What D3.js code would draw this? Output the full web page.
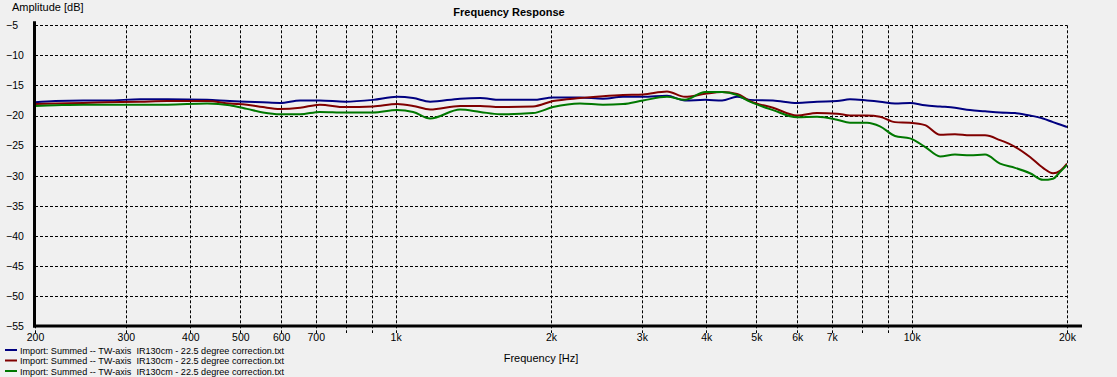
<!DOCTYPE html>
<html>
<head>
<meta charset="utf-8">
<script src="https://cdn.jsdelivr.net/npm/d3@7"></script>
<style>
  html, body { margin: 0; padding: 0; background: #f0f0f0; }
  svg { display: block; font-family: "Liberation Sans", Arial, sans-serif; }
</style>
</head>
<body>
<svg id="chart" width="1117" height="377"></svg>
<script>
// ---- Data ----
const freqs = [200, 219, 248, 276, 320, 361, 431, 477, 515, 553, 597, 653, 713, 798, 904, 1006, 1081, 1166,
  1333, 1458, 1593, 1846, 2018, 2276, 2522, 2758, 3016, 3356, 3636, 3978, 4290, 4588, 4860, 5386, 5996,
  6556, 7168, 7594, 8196, 8682, 9283, 9926, 10612, 11350, 12132, 12972, 13872, 14836, 15860, 16958,
  17968, 18792, 19384, 20000];

const blueDb = [-17.8, -17.6, -17.5, -17.5, -17.3, -17.3, -17.4, -17.6, -17.7, -17.8, -17.9, -17.5, -17.5,
  -17.7, -17.4, -16.9, -17.1, -17.7, -17.2, -17.1, -17.4, -17.4, -17.0, -17.0, -17.2, -16.9, -16.9, -16.7,
  -17.5, -17.4, -17.5, -16.9, -17.4, -17.5, -17.9, -17.7, -17.6, -17.3, -17.5, -17.7, -18.0, -17.9, -18.3,
  -18.5, -18.7, -19.1, -19.3, -19.5, -19.6, -20.0, -20.5, -21.1, -21.5, -21.9];

const redDb = [-18.1, -18.0, -17.9, -17.8, -17.7, -17.6, -17.6, -18.0, -18.2, -18.6, -18.9, -18.7, -18.2,
  -18.6, -18.5, -18.1, -18.4, -19.0, -18.4, -18.4, -18.6, -18.5, -17.6, -17.1, -16.8, -16.6, -16.5, -16.0,
  -16.9, -16.4, -16.1, -16.4, -17.6, -18.7, -20.0, -19.6, -19.7, -20.0, -20.0, -20.2, -21.1, -21.2, -21.6,
  -23.2, -23.1, -23.3, -23.3, -24.1, -25.2, -26.9, -28.7, -29.6, -29.2, -28.0];

const greenDb = [-18.4, -18.3, -18.2, -18.2, -18.2, -18.2, -18.0, -18.3, -18.9, -19.5, -19.8, -19.8, -19.4,
  -19.5, -19.5, -19.1, -19.4, -20.5, -19.0, -19.4, -19.8, -19.6, -18.6, -18.0, -18.2, -18.1, -17.5, -16.9,
  -17.4, -16.1, -16.1, -16.6, -17.7, -19.1, -20.3, -20.2, -20.7, -21.2, -21.2, -21.8, -23.4, -23.8, -25.2,
  -26.8, -26.5, -26.6, -26.5, -28.0, -28.7, -29.6, -30.7, -30.5, -29.4, -28.2];

const seriesNames = [
  "Import: Summed -- TW-axis  IR130cm - 22.5 degree correction.txt",
  "Import: Summed -- TW-axis  IR130cm - 22.5 degree correction.txt",
  "Import: Summed -- TW-axis  IR130cm - 22.5 degree correction.txt"
];
const seriesColors = ["#000080", "#800000", "#007800"];

const xTicks = [200, 300, 400, 500, 600, 700, 800, 900, 1000, 2000, 3000, 4000, 5000, 6000, 7000, 8000, 9000, 10000, 20000];
const xTickLabels = ["200", "300", "400", "500", "600", "700", "", "", "1k", "2k", "3k", "4k", "5k", "6k", "7k", "", "", "10k", "20k"];
const yTicks = [-5, -10, -15, -20, -25, -30, -35, -40, -45, -50, -55];

const titleText = "Frequency Response";
const xTitle = "Frequency [Hz]";
const yTitle = "Amplitude [dB]";

// ---- Layout ----
const svg = d3.select("#chart");
const L = 35, R = 1067, T = 25.3, B = 326;
const x = d3.scaleLog().domain([200, 20000]).range([L, R]);
const y = d3.scaleLinear().domain([-55, -5]).range([B, T]);

// grid: horizontal
svg.append("g").selectAll("line").data(yTicks.filter(v => v > -55)).join("line")
  .attr("x1", L).attr("x2", R)
  .attr("y1", d => Math.round(y(d)) + 0.5).attr("y2", d => Math.round(y(d)) + 0.5)
  .attr("stroke", "#000").attr("stroke-width", 1).attr("stroke-dasharray", "3,2");

// grid: vertical (extend below the axis as ticks)
svg.append("g").selectAll("line").data(xTicks).join("line")
  .attr("x1", d => Math.round(x(d)) + 0.5).attr("x2", d => Math.round(x(d)) + 0.5)
  .attr("y1", T).attr("y2", B + 7)
  .attr("stroke", "#000").attr("stroke-width", 1).attr("stroke-dasharray", "3,2");

// x axis labels via d3 axis
const xAxis = d3.axisBottom(x).tickValues(xTicks).tickSize(0).tickPadding(0)
  .tickFormat((d, i) => xTickLabels[i]);
const gx = svg.append("g").attr("transform", `translate(0,${B + 8})`).call(xAxis);
gx.select(".domain").remove();
gx.selectAll("text").attr("font-size", "10.5px").attr("fill", "#000")
  .attr("font-family", "'Liberation Sans', Arial, sans-serif").attr("dy", "0.71em");

// y axis labels via d3 axis
const yAxis = d3.axisLeft(y).tickValues(yTicks).tickSize(0).tickPadding(0).tickFormat(d3.format("d"));
const gy = svg.append("g").attr("transform", `translate(6,0)`).call(yAxis);
gy.select(".domain").remove();
gy.selectAll("text").attr("text-anchor", "start").attr("font-size", "10.5px").attr("fill", "#000")
  .attr("font-family", "'Liberation Sans', Arial, sans-serif");

// clip
svg.append("defs").append("clipPath").attr("id", "clip")
  .append("rect").attr("x", L).attr("y", T - 2).attr("width", R - L).attr("height", B - T);

// lines
const allSeries = [blueDb, redDb, greenDb];
const line = d3.line().x((d, i) => x(freqs[i])).y(d => y(d)).curve(d3.curveMonotoneX);
svg.append("g").attr("clip-path", "url(#clip)").selectAll("path").data(allSeries).join("path")
  .attr("d", d => line(d)).attr("fill", "none")
  .attr("stroke", (d, i) => seriesColors[i]).attr("stroke-width", 2)
  .attr("stroke-linejoin", "round");

// axis lines
svg.append("line").attr("x1", L - 0.5).attr("x2", L - 0.5).attr("y1", T - 4).attr("y2", B + 1.5)
  .attr("stroke", "#000").attr("stroke-width", 3);
svg.append("line").attr("x1", L - 2).attr("x2", 1082).attr("y1", B).attr("y2", B)
  .attr("stroke", "#000").attr("stroke-width", 3);

// titles
svg.append("text").attr("x", 509).attr("y", 16).attr("text-anchor", "middle")
  .attr("font-size", "11px").attr("font-weight", "bold").attr("fill", "#000").text(titleText);
svg.append("text").attr("x", 541).attr("y", 362).attr("text-anchor", "middle")
  .attr("font-size", "11px").attr("fill", "#000").text(xTitle);
svg.append("text").attr("x", 12).attr("y", 11).attr("font-size", "11px").attr("fill", "#000").text(yTitle);

// legend
const lg = svg.append("g");
seriesNames.forEach((name, i) => {
  const yy = 350 + i * 10.5;
  lg.append("line").attr("x1", 5).attr("x2", 17).attr("y1", yy).attr("y2", yy)
    .attr("stroke", seriesColors[i]).attr("stroke-width", 2);
  lg.append("text").attr("x", 20).attr("y", yy + 3.5).attr("font-size", "9.1px")
    .style("white-space", "pre").attr("fill", "#000").text(name);
});
</script>
</body>
</html>
